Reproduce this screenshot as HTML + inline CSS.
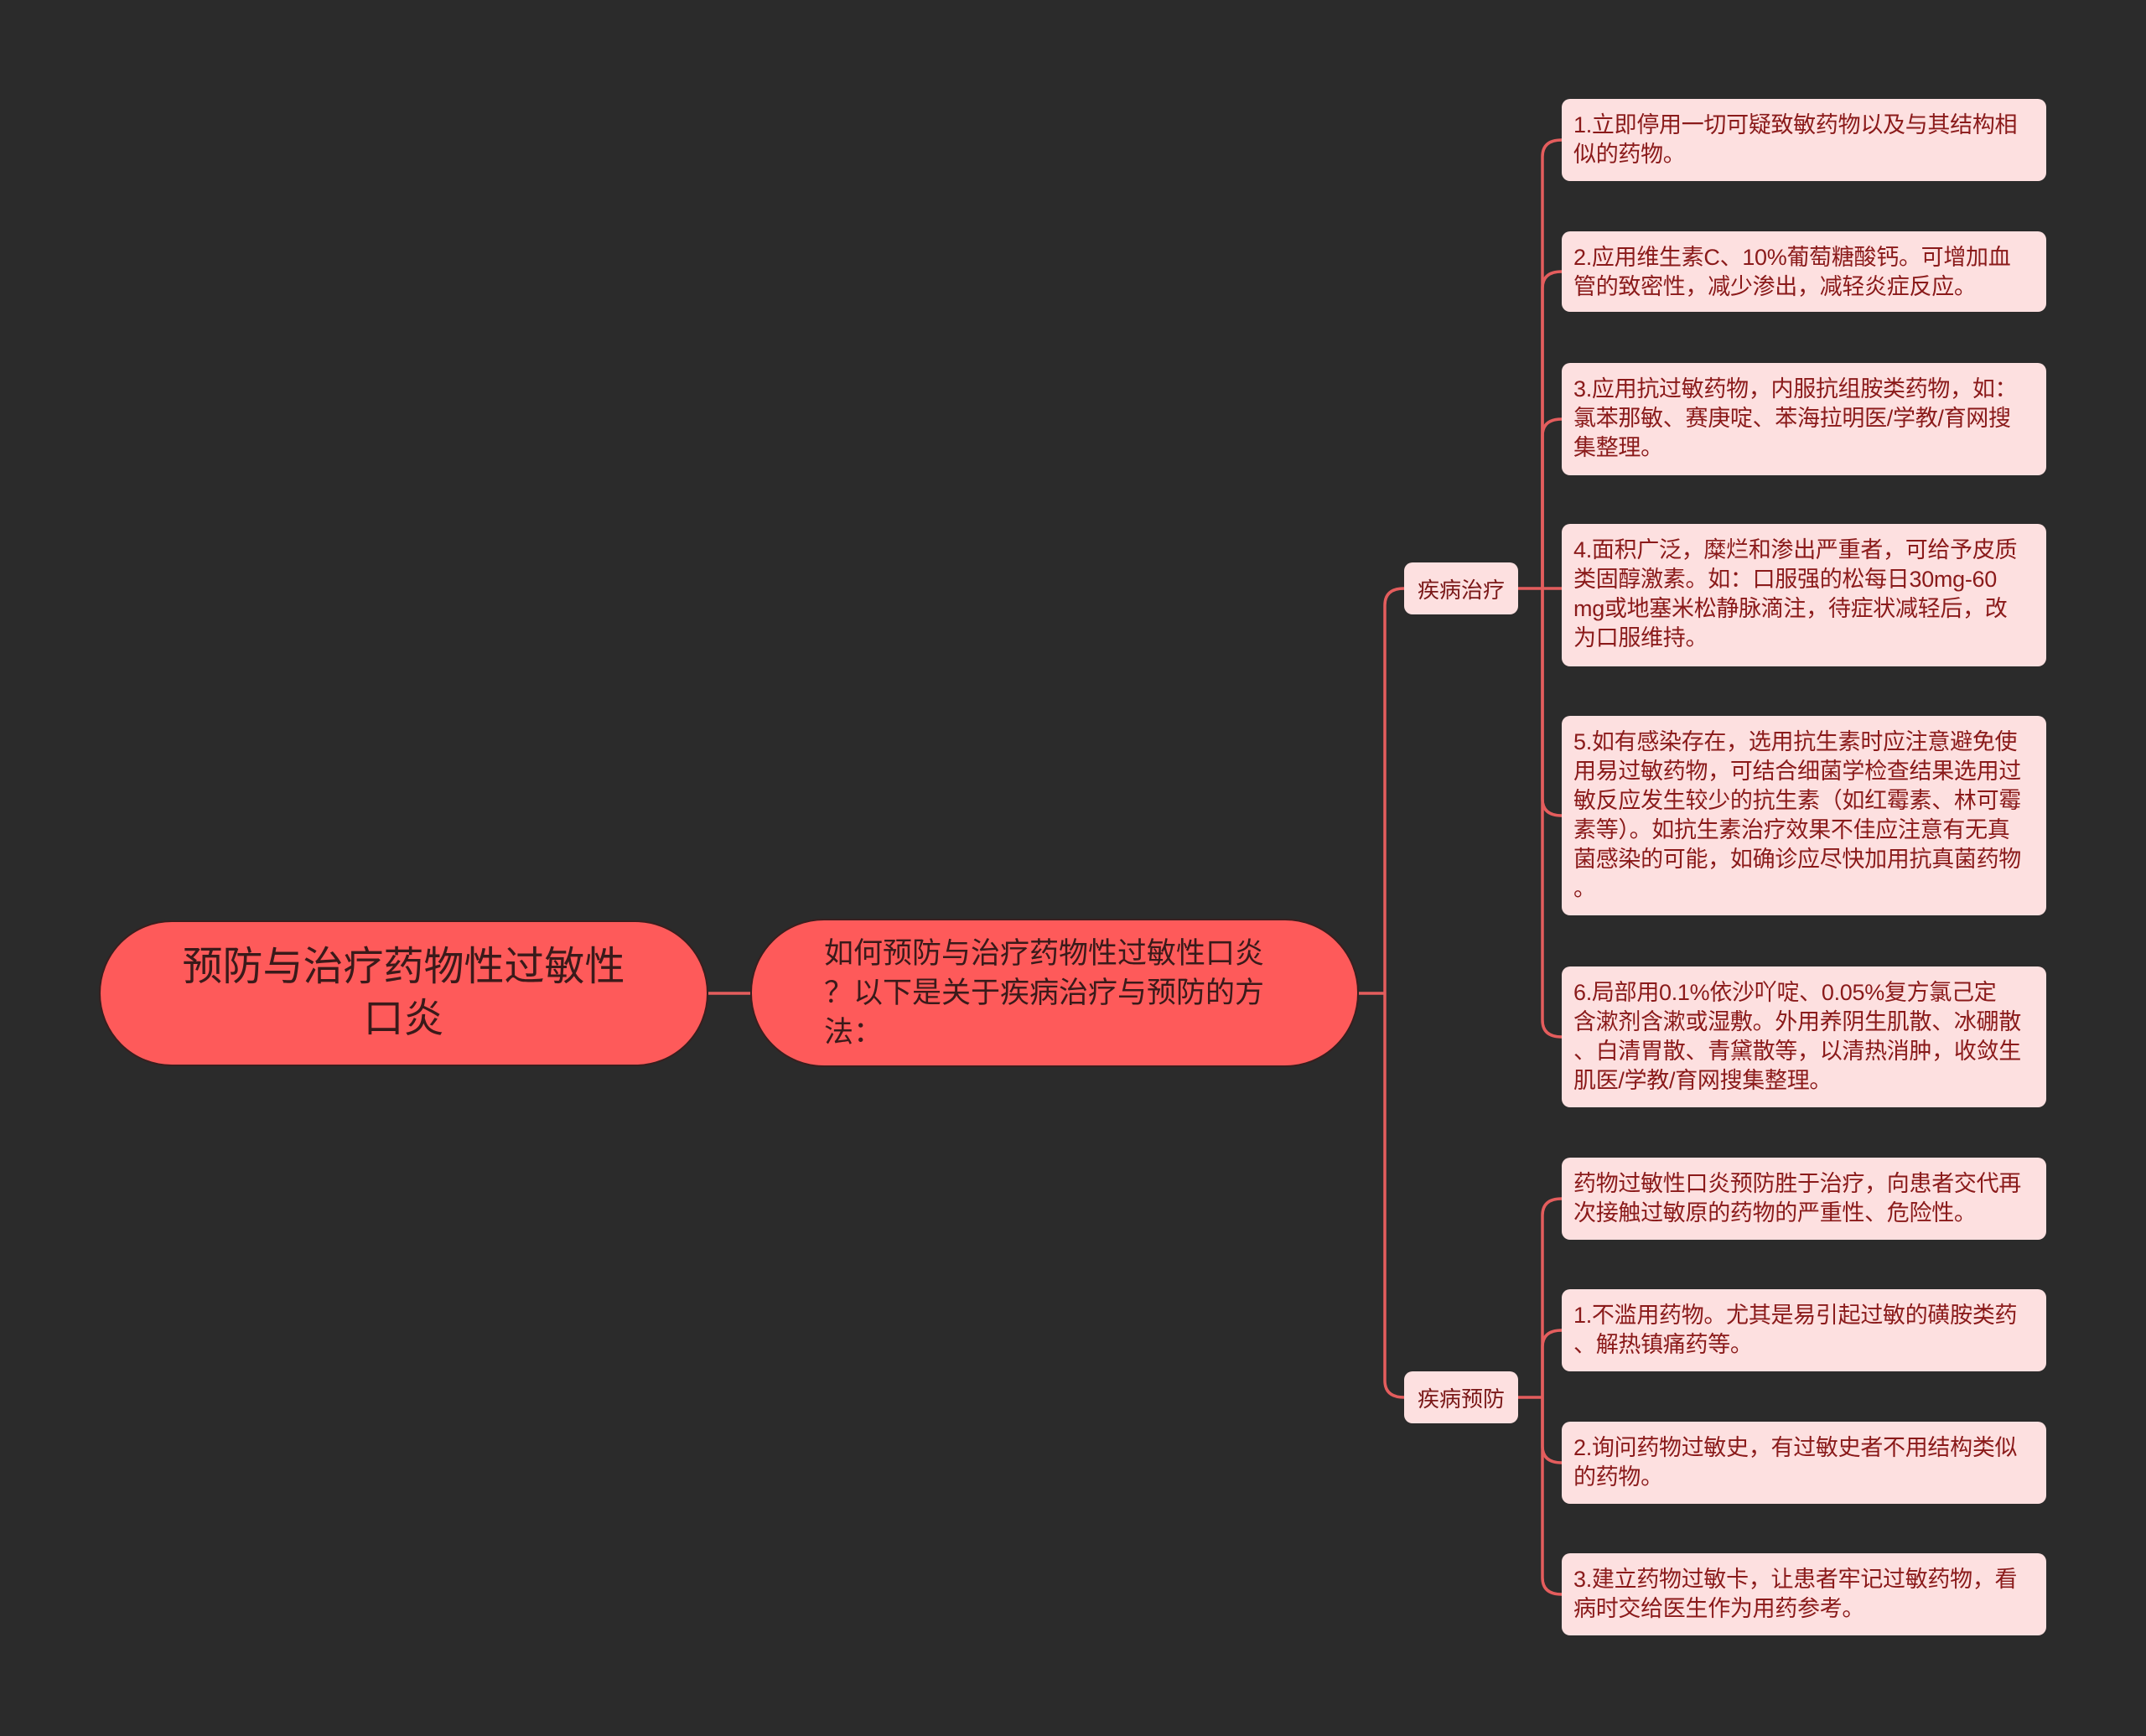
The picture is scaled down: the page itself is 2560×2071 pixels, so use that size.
<!DOCTYPE html>
<html><head><meta charset="utf-8"><style>
*{margin:0;padding:0;box-sizing:border-box}
body{width:2560px;height:2071px;background:#2b2b2b;position:relative;overflow:hidden;font-family:"Liberation Sans","Noto Sans CJK SC",sans-serif}
.b{position:absolute}
.root{left:118px;top:1098px;width:727px;height:174px;background:#fe5a5a;border-radius:87px;border:2px solid #3a1e1e;color:#3a1a1a;font-size:48px;line-height:62px;text-align:center;display:flex;align-items:center;justify-content:center;padding:0 90px}
.mid{left:895px;top:1096px;width:726px;height:177px;background:#fe5a5a;border-radius:88px;border:2px solid #3a1e1e;color:#3a1a1a;font-size:35px;line-height:47px;padding:0 0 0 86px;display:flex;align-items:center;white-space:nowrap}
.br{background:#fde0e0;border-radius:10px;color:#7a1818;font-size:26px;display:flex;align-items:center;justify-content:center}
.lf{left:1863px;width:578px;background:#fde0e0;border-radius:10px;color:#8a1a1a;font-size:27px;line-height:35px;padding:14px 8px 0 14px;white-space:nowrap;letter-spacing:-0.3px}
</style></head><body>
<svg class="b" style="left:0;top:0" width="2560" height="2071">
<g fill="none" stroke="#e45d5d" stroke-width="3.5">
<path d="M845 1185H895"/>
<path d="M1621 1185H1652"/>
<path d="M1652 1185V722Q1652 702 1675 702"/>
<path d="M1652 1185V1647Q1652 1667 1675 1667"/>
<path d="M1811 702H1840"/>
<path d="M1840 702V187Q1840 167 1863 167"/>
<path d="M1840 702V344Q1840 324 1863 324"/>
<path d="M1840 702V520Q1840 500 1863 500"/>
<path d="M1840 702H1863"/>
<path d="M1840 702V953Q1840 973 1863 973"/>
<path d="M1840 702V1217Q1840 1237 1863 1237"/>
<path d="M1811 1667H1840"/>
<path d="M1840 1667V1450Q1840 1430 1863 1430"/>
<path d="M1840 1667V1607Q1840 1587 1863 1587"/>
<path d="M1840 1667V1725Q1840 1745 1863 1745"/>
<path d="M1840 1667V1882Q1840 1902 1863 1902"/>
</g></svg>
<div class="b root">预防与治疗药物性过敏性口炎</div>
<div class="b mid">如何预防与治疗药物性过敏性口炎<br>？以下是关于疾病治疗与预防的方<br>法：</div>
<div class="b br" style="left:1675px;top:671px;width:136px;height:62px">疾病治疗</div>
<div class="b br" style="left:1675px;top:1636px;width:136px;height:62px">疾病预防</div>
<div class="b lf" style="top:118px;height:98px">1.立即停用一切可疑致敏药物以及与其结构相<br>似的药物。</div>
<div class="b lf" style="top:276px;height:96px">2.应用维生素C、10%葡萄糖酸钙。可增加血<br>管的致密性，减少渗出，减轻炎症反应。</div>
<div class="b lf" style="top:433px;height:134px">3.应用抗过敏药物，内服抗组胺类药物，如：<br>氯苯那敏、赛庚啶、苯海拉明医/学教/育网搜<br>集整理。</div>
<div class="b lf" style="top:625px;height:170px">4.面积广泛，糜烂和渗出严重者，可给予皮质<br>类固醇激素。如：口服强的松每日30mg-60<br>mg或地塞米松静脉滴注，待症状减轻后，改<br>为口服维持。</div>
<div class="b lf" style="top:854px;height:238px">5.如有感染存在，选用抗生素时应注意避免使<br>用易过敏药物，可结合细菌学检查结果选用过<br>敏反应发生较少的抗生素（如红霉素、林可霉<br>素等）。如抗生素治疗效果不佳应注意有无真<br>菌感染的可能，如确诊应尽快加用抗真菌药物<br>。</div>
<div class="b lf" style="top:1153px;height:168px">6.局部用0.1%依沙吖啶、0.05%复方氯己定<br>含漱剂含漱或湿敷。外用养阴生肌散、冰硼散<br>、白清胃散、青黛散等，以清热消肿，收敛生<br>肌医/学教/育网搜集整理。</div>
<div class="b lf" style="top:1381px;height:98px">药物过敏性口炎预防胜于治疗，向患者交代再<br>次接触过敏原的药物的严重性、危险性。</div>
<div class="b lf" style="top:1538px;height:98px">1.不滥用药物。尤其是易引起过敏的磺胺类药<br>、解热镇痛药等。</div>
<div class="b lf" style="top:1696px;height:98px">2.询问药物过敏史，有过敏史者不用结构类似<br>的药物。</div>
<div class="b lf" style="top:1853px;height:98px">3.建立药物过敏卡，让患者牢记过敏药物，看<br>病时交给医生作为用药参考。</div>
</body></html>
